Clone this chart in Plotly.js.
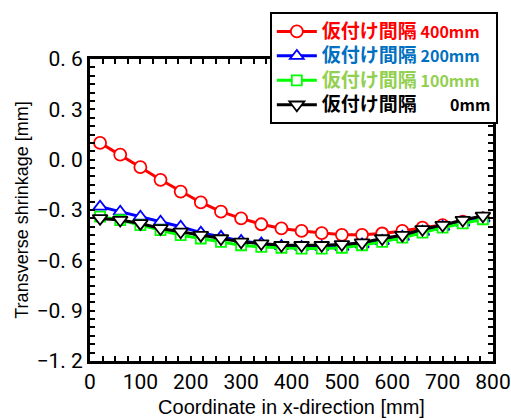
<!DOCTYPE html>
<html><head><meta charset="utf-8">
<script src="https://cdn.plot.ly/plotly-3.0.1.min.js"></script>
<style>html,body{margin:0;padding:0;background:#fff;}</style>
</head><body><div id="chart" style="width:511px;height:420px;"></div>
<script>
const xs = [20,60,100,140,180,220,260,300,340,380,420,460,500,540,580,620,660,700,740,780];
const y400 = [0.10,0.03,-0.045,-0.12,-0.19,-0.255,-0.31,-0.35,-0.385,-0.41,-0.425,-0.438,-0.448,-0.448,-0.44,-0.425,-0.405,-0.39,-0.37,-0.35];
const y200 = [-0.28,-0.31,-0.34,-0.37,-0.40,-0.435,-0.46,-0.485,-0.50,-0.515,-0.52,-0.52,-0.52,-0.505,-0.485,-0.46,-0.43,-0.40,-0.375,-0.35];
const y100 = [-0.34,-0.36,-0.39,-0.42,-0.45,-0.47,-0.49,-0.51,-0.52,-0.525,-0.53,-0.53,-0.525,-0.51,-0.49,-0.465,-0.435,-0.405,-0.38,-0.355];
const y0 = [-0.35,-0.36,-0.38,-0.41,-0.43,-0.45,-0.47,-0.49,-0.50,-0.51,-0.51,-0.51,-0.505,-0.495,-0.47,-0.45,-0.415,-0.39,-0.36,-0.335];
const seriesNames = ['仮付け間隔','仮付け間隔','仮付け間隔','仮付け間隔'];
const seriesSuffix = ['400mm','200mm','100mm','0mm'];
const yTickVals = [0.6,0.3,0.0,-0.3,-0.6,-0.9,-1.2];
const yTickText = ['0. 6','0. 3','0. 0','\u22120. 3','\u22120. 6','\u22120. 9','\u22121. 2'];
const xTickVals = [0,100,200,300,400,500,600,700,800];
const xTickText = ['0','100','200','300','400','500','600','700','800'];

const lineCols = ['#ff0000','#0000ff','#00ff00','#000000'];
const textCols = ['#ff0000','#0070c0','#92d050','#000000'];
const symbols = ['circle','triangle-up','square','triangle-down'];
const ys = [y400,y200,y100,y0];
const sizes = [12,12,10,13];
const pads = ['&nbsp;','&nbsp;','&nbsp;','&nbsp;&nbsp;&nbsp;&nbsp;&nbsp;&nbsp;&nbsp;&nbsp;&nbsp;'];

const traces = ys.map((y,i)=>({
  x: xs, y: y, type:'scatter', mode:'lines+markers',
  line:{color:lineCols[i], width:3},
  marker:{symbol:symbols[i], size:sizes[i], color:'#ffffff', line:{color:i===3?'#000':lineCols[i], width:1.8}},
  name:'<span style="color:'+textCols[i]+'"><b><span style="font-size:19px">'+seriesNames[i]+'</span></b>'+pads[i]+'<b><span style="font-size:16px">'+seriesSuffix[i]+'</span></b></span>'
}));

const fontTick = 'Liberation Sans Narrow, Roboto, Arial, sans-serif';
const layout = {
  width:511, height:420,
  margin:{l:90, r:18, t:45, b:59},
  paper_bgcolor:'#fff', plot_bgcolor:'#fff',
  showlegend:true,
  legend:{x:1.012, xanchor:'right', y:1.155, yanchor:'top', bgcolor:'#fff', bordercolor:'#000', borderwidth:2,
    font:{family:'Noto Sans CJK JP, sans-serif', size:16.5, color:'#000'}, tracegroupgap:0, itemwidth:40},
  xaxis:{range:[0,800], tickmode:'array', tickvals:xTickVals, ticktext:xTickText,
    ticks:'inside', ticklen:5, tickwidth:2, tickcolor:'#000',
    minor:{dtick:25, ticks:'inside', ticklen:5, tickwidth:2, tickcolor:'#000'},
    showline:true, linewidth:3, linecolor:'#000', mirror:'ticks', showgrid:false, zeroline:false,
    tickfont:{family:fontTick, size:21, color:'#000'},
    title:{text:'Coordinate in x-direction [mm]', font:{family:'Liberation Sans, Arial, sans-serif', size:20, color:'#000'}, standoff:7}},
  yaxis:{range:[-1.2,0.6], tickmode:'array', tickvals:yTickVals, ticktext:yTickText,
    ticks:'inside', ticklen:5, tickwidth:2, tickcolor:'#000',
    minor:{dtick:0.05, ticks:'inside', ticklen:5, tickwidth:2, tickcolor:'#000'},
    showline:true, linewidth:3, linecolor:'#000', mirror:'ticks', showgrid:false, zeroline:false,
    tickfont:{family:fontTick, size:21, color:'#000'},
    title:{text:'Transverse shrinkage [mm]', font:{family:'Liberation Sans, Arial, sans-serif', size:18, color:'#000'}, standoff:4}}
};
Plotly.newPlot('chart', traces, layout, {displayModeBar:false, staticPlot:true});
</script></body></html>
